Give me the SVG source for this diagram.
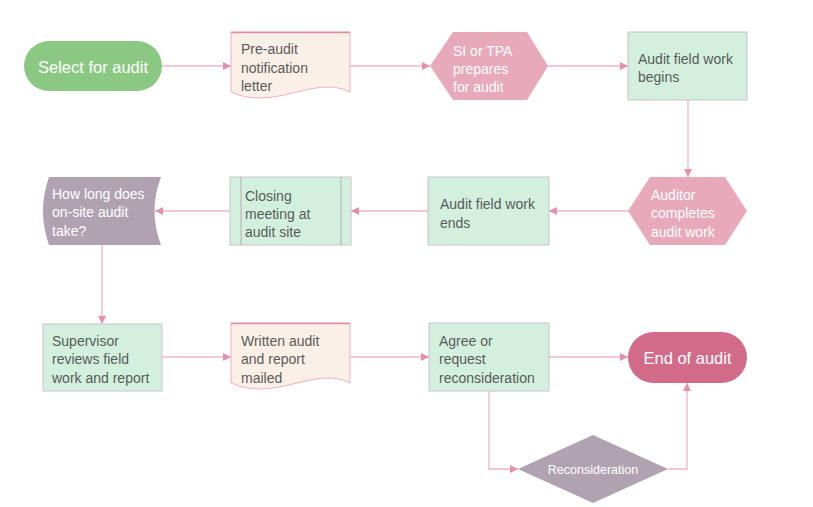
<svg xmlns="http://www.w3.org/2000/svg" width="813" height="507" viewBox="0 0 813 507">
<defs>
<marker id="arr" markerWidth="8" markerHeight="8" refX="8" refY="4" orient="auto" markerUnits="userSpaceOnUse">
<path d="M0,0 L8,4 L0,8 z" fill="#e48fab"/>
</marker>
<style>
.conn{fill:none;stroke:#efb4c6;stroke-width:1.3;marker-end:url(#arr)}
.line{fill:none;stroke:#efb4c6;stroke-width:1.3}
.t{font-family:"Liberation Sans",Arial,sans-serif;font-size:14px;fill:#5a5a5a}
.w{font-family:"Liberation Sans",Arial,sans-serif;font-size:14px;fill:#ffffff}
.big{font-family:"Liberation Sans",Arial,sans-serif;font-size:16.5px;fill:#ffffff;text-anchor:middle}
.green{fill:#d3f0df;stroke:#cbbfcf;stroke-width:1}
.doc{fill:#fbf0e7;stroke:#eeb0c2;stroke-width:1}
.doctop{stroke:#e38aa5;stroke-width:1.5}
.hex{fill:#e8a9ba}
.gray{fill:#b0a2b1}
</style>
</defs>
<rect width="813" height="507" fill="#ffffff"/>
<g id="connectors">
<path class="conn" d="M162,66 H231"/>
<path class="conn" d="M350,66 H430"/>
<path class="conn" d="M548,66 H628"/>
<path class="conn" d="M688,100 V177"/>
<path class="conn" d="M628,211 H549"/>
<path class="conn" d="M428,211 H351"/>
<path class="conn" d="M230,211 H155"/>
<path class="conn" d="M102,245 V324"/>
<path class="conn" d="M162,357 H231"/>
<path class="conn" d="M350,357 H429"/>
<path class="conn" d="M549,357 H628"/>
<path class="conn" d="M489,391 V469 H518"/>
<path class="conn" d="M668,469 H687 V383"/>
</g>
<g id="select">
<rect x="24" y="41" width="138" height="50" rx="25" fill="#8bc883"/>
<text class="big" x="93" y="73">Select for audit</text>
</g>
<g id="preaudit">
<path class="doc" d="M231,32 H350 V92 C315,74 275,112 231,92 Z"/>
<line class="doctop" x1="231" y1="32.5" x2="350" y2="32.5"/>
<text class="t" x="241" y="54">Pre-audit</text>
<text class="t" x="241" y="73">notification</text>
<text class="t" x="241" y="91">letter</text>
</g>
<g id="prepares">
<polygon class="hex" points="430,66 453,32 527,32 548,66 527,100 453,100"/>
<text class="w" x="453" y="56">SI or TPA</text>
<text class="w" x="453" y="74">prepares</text>
<text class="w" x="453" y="92">for audit</text>
</g>
<g id="begins">
<rect class="green" x="628" y="32" width="119" height="68"/>
<text class="t" x="638" y="64">Audit field work</text>
<text class="t" x="638" y="82">begins</text>
</g>
<g id="completes">
<polygon class="hex" points="628,211 650,177 725,177 747,211 725,245 650,245"/>
<text class="w" x="651" y="200">Auditor</text>
<text class="w" x="651" y="218">completes</text>
<text class="w" x="651" y="237">audit work</text>
</g>
<g id="ends">
<rect class="green" x="428" y="177" width="121" height="68"/>
<text class="t" x="440" y="209">Audit field work</text>
<text class="t" x="440" y="228">ends</text>
</g>
<g id="closing">
<rect class="green" x="230" y="177" width="121" height="68"/>
<line x1="241" y1="177" x2="241" y2="245" stroke="#b8aab8" stroke-width="1"/>
<line x1="341" y1="177" x2="341" y2="245" stroke="#b8aab8" stroke-width="1"/>
<text class="t" x="245" y="201">Closing</text>
<text class="t" x="245" y="219">meeting at</text>
<text class="t" x="245" y="237">audit site</text>
</g>
<g id="howlong">
<path class="gray" d="M49,177 H161 Q148,211 161,245 H49 Q37,211 49,177 Z"/>
<text class="w" x="52" y="199">How long does</text>
<text class="w" x="52" y="217">on-site audit</text>
<text class="w" x="52" y="236">take?</text>
</g>
<g id="supervisor">
<rect class="green" x="43" y="324" width="119" height="67"/>
<text class="t" x="52" y="346">Supervisor</text>
<text class="t" x="52" y="364">reviews field</text>
<text class="t" x="52" y="383">work and report</text>
</g>
<g id="written">
<path class="doc" d="M231,323 H350 V383 C315,365 275,403 231,383 Z"/>
<line class="doctop" x1="231" y1="323.5" x2="350" y2="323.5"/>
<text class="t" x="241" y="346">Written audit</text>
<text class="t" x="241" y="364">and report</text>
<text class="t" x="241" y="383">mailed</text>
</g>
<g id="agree">
<rect class="green" x="429" y="323" width="120" height="68"/>
<text class="t" x="439" y="346">Agree or</text>
<text class="t" x="439" y="364">request</text>
<text class="t" x="439" y="383">reconsideration</text>
</g>
<g id="end">
<rect x="628" y="332" width="119" height="51" rx="25.5" fill="#d26b8a"/>
<text class="big" x="687.5" y="364">End of audit</text>
</g>
<g id="reconsideration">
<polygon class="gray" points="518,469 593,435 668,469 593,503"/>
<text x="593" y="474" style="font-family:'Liberation Sans',Arial,sans-serif;font-size:12.5px;fill:#ffffff;text-anchor:middle">Reconsideration</text>
</g>
</svg>
